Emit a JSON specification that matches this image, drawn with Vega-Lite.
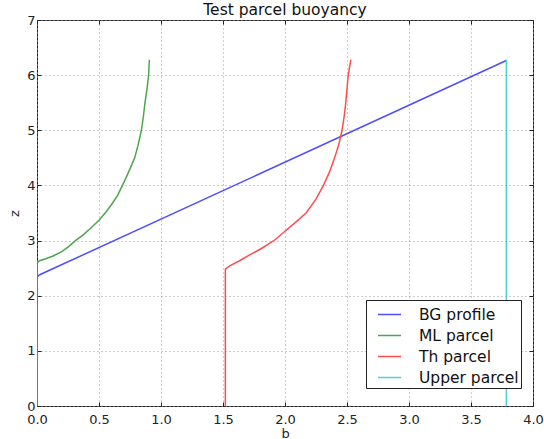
{
  "$schema": "https://vega.github.io/schema/vega-lite/v6.json",
  "width": 496,
  "height": 386,
  "autosize": {"type": "none"},
  "padding": {"left": 37, "top": 20, "right": 11, "bottom": 33},
  "background": "white",
  "title": {
    "text": "Test parcel buoyancy",
    "font": "DejaVu Sans",
    "fontSize": 15.5,
    "fontWeight": "normal",
    "color": "#111",
    "anchor": "middle",
    "baseline": "alphabetic",
    "offset": -16.5
  },
  "config": {
    "view": {"stroke": "#222", "strokeWidth": 1},
    "axis": {
      "labelFont": "DejaVu Sans",
      "labelFontSize": 13,
      "labelColor": "#222",
      "titleFont": "DejaVu Sans",
      "titleFontSize": 13,
      "titleFontWeight": "normal",
      "titleColor": "#222",
      "domain": false,
      "tickColor": "#222",
      "tickSize": -4,
      "tickWidth": 1,
      "grid": true,
      "gridColor": "#999",
      "gridDash": [1, 3],
      "gridWidth": 1,
      "gridOpacity": 1
    },
    "legend": {
      "labelFont": "DejaVu Sans",
      "labelFontSize": 15.5,
      "labelColor": "#111",
      "symbolType": "stroke",
      "symbolSize": 529,
      "symbolStrokeWidth": 1.5,
      "strokeColor": "#222",
      "fillColor": "white",
      "padding": 2,
      "symbolOffset": 9,
      "labelOffset": 17,
      "rowPadding": 0,
      "cornerRadius": 0
    }
  },
  "data": {
    "values": [
      {"series": "BG profile", "i": 0, "b": 0, "z": 0},
      {"series": "BG profile", "i": 1, "b": 0, "z": 2.34},
      {"series": "BG profile", "i": 2, "b": 0.022, "z": 2.38},
      {"series": "BG profile", "i": 3, "b": 3.785, "z": 6.265},

      {"series": "ML parcel", "i": 0, "b": 0, "z": 0},
      {"series": "ML parcel", "i": 1, "b": 0, "z": 2.6},
      {"series": "ML parcel", "i": 2, "b": 0.022, "z": 2.635},
      {"series": "ML parcel", "i": 3, "b": 0.07, "z": 2.67},
      {"series": "ML parcel", "i": 4, "b": 0.13, "z": 2.72},
      {"series": "ML parcel", "i": 5, "b": 0.2, "z": 2.8},
      {"series": "ML parcel", "i": 6, "b": 0.26, "z": 2.9},
      {"series": "ML parcel", "i": 7, "b": 0.31, "z": 3.0},
      {"series": "ML parcel", "i": 8, "b": 0.37, "z": 3.1},
      {"series": "ML parcel", "i": 9, "b": 0.43, "z": 3.22},
      {"series": "ML parcel", "i": 10, "b": 0.5, "z": 3.37},
      {"series": "ML parcel", "i": 11, "b": 0.55, "z": 3.5},
      {"series": "ML parcel", "i": 12, "b": 0.6, "z": 3.65},
      {"series": "ML parcel", "i": 13, "b": 0.65, "z": 3.82},
      {"series": "ML parcel", "i": 14, "b": 0.689, "z": 4.0},
      {"series": "ML parcel", "i": 15, "b": 0.72, "z": 4.15},
      {"series": "ML parcel", "i": 16, "b": 0.75, "z": 4.3},
      {"series": "ML parcel", "i": 17, "b": 0.788, "z": 4.5},
      {"series": "ML parcel", "i": 18, "b": 0.815, "z": 4.73},
      {"series": "ML parcel", "i": 19, "b": 0.842, "z": 5.0},
      {"series": "ML parcel", "i": 20, "b": 0.858, "z": 5.25},
      {"series": "ML parcel", "i": 21, "b": 0.871, "z": 5.5},
      {"series": "ML parcel", "i": 22, "b": 0.887, "z": 5.75},
      {"series": "ML parcel", "i": 23, "b": 0.9, "z": 6.0},
      {"series": "ML parcel", "i": 24, "b": 0.906, "z": 6.28},

      {"series": "Th parcel", "i": 0, "b": 1.519, "z": 0},
      {"series": "Th parcel", "i": 1, "b": 1.519, "z": 2.48},
      {"series": "Th parcel", "i": 2, "b": 1.554, "z": 2.54},
      {"series": "Th parcel", "i": 3, "b": 1.63, "z": 2.63},
      {"series": "Th parcel", "i": 4, "b": 1.715, "z": 2.74},
      {"series": "Th parcel", "i": 5, "b": 1.82, "z": 2.87},
      {"series": "Th parcel", "i": 6, "b": 1.917, "z": 3.01},
      {"series": "Th parcel", "i": 7, "b": 2.0, "z": 3.17},
      {"series": "Th parcel", "i": 8, "b": 2.08, "z": 3.32},
      {"series": "Th parcel", "i": 9, "b": 2.17, "z": 3.5},
      {"series": "Th parcel", "i": 10, "b": 2.25, "z": 3.75},
      {"series": "Th parcel", "i": 11, "b": 2.31, "z": 4.0},
      {"series": "Th parcel", "i": 12, "b": 2.36, "z": 4.25},
      {"series": "Th parcel", "i": 13, "b": 2.4, "z": 4.5},
      {"series": "Th parcel", "i": 14, "b": 2.435, "z": 4.75},
      {"series": "Th parcel", "i": 15, "b": 2.46, "z": 5.0},
      {"series": "Th parcel", "i": 16, "b": 2.477, "z": 5.25},
      {"series": "Th parcel", "i": 17, "b": 2.49, "z": 5.5},
      {"series": "Th parcel", "i": 18, "b": 2.5, "z": 5.75},
      {"series": "Th parcel", "i": 19, "b": 2.51, "z": 6.0},
      {"series": "Th parcel", "i": 20, "b": 2.531, "z": 6.28},

      {"series": "Upper parcel", "i": 0, "b": 3.785, "z": 0},
      {"series": "Upper parcel", "i": 1, "b": 3.785, "z": 6.28}
    ]
  },
  "resolve": {"axis": {"x": "independent", "y": "independent"}},
  "layer": [
    {
      "mark": {"type": "line", "strokeWidth": 1.5, "clip": true},
      "encoding": {
        "x": {
          "field": "b", "type": "quantitative", "title": "b",
          "scale": {"domain": [0, 4], "nice": false, "zero": false},
          "axis": {"values": [0, 0.5, 1, 1.5, 2, 2.5, 3, 3.5, 4], "format": ".1f", "labelPadding": 11, "titlePadding": 1, "labelFlush": false}
        },
        "y": {
          "field": "z", "type": "quantitative", "title": "z",
          "scale": {"domain": [0, 7], "nice": false, "zero": false},
          "axis": {"values": [0, 1, 2, 3, 4, 5, 6, 7], "format": "d", "labelPadding": 6, "titlePadding": 5, "labelFlush": false}
        },
        "color": {
          "field": "series", "type": "nominal", "title": null,
          "scale": {
            "domain": ["BG profile", "ML parcel", "Th parcel", "Upper parcel"],
            "range": ["#4d4dff", "#4da64d", "#ff4d4d", "#4dd2d2"]
          },
          "legend": {"orient": "none", "legendX": 329, "legendY": 280}
        },
        "order": {"field": "i", "type": "quantitative"}
      }
    },
    {
      "mark": {"type": "point", "opacity": 0},
      "encoding": {
        "x": {
          "field": "b", "type": "quantitative",
          "axis": {"orient": "top", "values": [0, 0.5, 1, 1.5, 2, 2.5, 3, 3.5, 4], "labels": false, "grid": false, "title": null}
        },
        "y": {
          "field": "z", "type": "quantitative",
          "axis": {"orient": "right", "values": [0, 1, 2, 3, 4, 5, 6, 7], "labels": false, "grid": false, "title": null}
        }
      }
    }
  ]
}
